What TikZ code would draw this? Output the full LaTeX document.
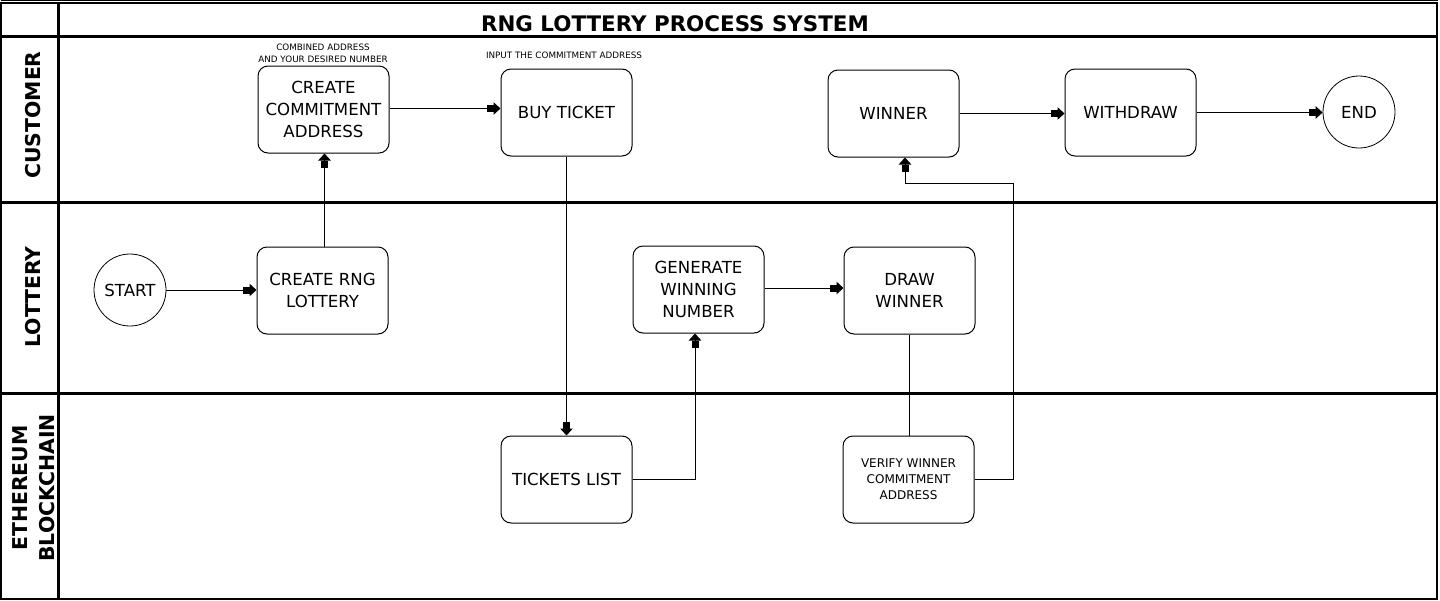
\documentclass[tikz,border=0pt]{standalone}
\usepackage{fontspec}
\setmainfont{DejaVu Sans}
\usepackage{tikz}
\usetikzlibrary{arrows.meta}
\tikzset{>=latex}
\tikzset{
  task/.style={draw, line width=0.5pt, rounded corners=5pt, minimum width=65.5pt,
    minimum height=43.5pt, align=center, font=\fontsize{8.3}{11}\selectfont},
  small task/.style={task, font=\fontsize{6}{8}\selectfont},
  event/.style={draw, circle, line width=0.4pt, minimum size=36pt, inner sep=0pt,
    font=\fontsize{8.3}{11}\selectfont},
  note/.style={align=center, font=\fontsize{4.4}{6}\selectfont},
  lane/.style={rotate=90, align=center, font=\fontsize{10.2}{13.5}\selectfont\bfseries},
  lanerule/.style={line width=1.5pt},
  flow/.style={line width=0.5pt, -{Rectangle[length=3.5pt,width=3.5pt,sep=0pt]Triangle[length=3.5pt,width=6.25pt]}}
}

\begin{document}
\begin{tikzpicture}[x=0.5pt,y=-0.5pt]
  \useasboundingbox (0,0) rectangle (1440,600);
  % pool and lanes
  \draw[line width=0.5pt] (0.5,0.5) -- (1438,0.5);
  \draw[line width=1pt] (1,3) -- (1437,3) -- (1437,599) -- (1,599) -- cycle;
  \draw[lanerule] (0,36) -- (1438,36);
  \draw[lanerule] (0,202) -- (1438,202);
  \draw[lanerule] (0,393) -- (1438,393);
  \draw[lanerule] (58,2) -- (58,600);
  \node[font=\fontsize{10.7}{13}\selectfont\bfseries] (title) at (675,24) {RNG LOTTERY PROCESS SYSTEM};
  \node[lane] (lcust) at (33,115) {CUSTOMER};
  \node[lane] (llott) at (33,297) {LOTTERY};
  \node[lane] (lchain) at (33.5,488) {ETHEREUM\\BLOCKCHAIN};

  % customer
  \node[task] (commit) at (323.5,109.5) {CREATE\\COMMITMENT\\ADDRESS};
  \node[note] (commitnote) at (323,53) {COMBINED ADDRESS\\AND YOUR DESIRED NUMBER};
  \node[task] (buy) at (566.5,112.5) {BUY TICKET};
  \node[note] (buynote) at (564,55) {INPUT THE COMMITMENT ADDRESS};
  \node[task] (winner) at (893.5,113.5) {WINNER};
  \node[task] (withdraw) at (1130.5,112.5) {WITHDRAW};
  \node[event] (end) at (1359,112) {END};

  % lottery
  \node[event] (start) at (130,290) {START};
  \node[task] (rng) at (322.5,290.5) {CREATE RNG\\LOTTERY};
  \node[task] (gen) at (698.5,289.5) {GENERATE\\WINNING\\NUMBER};
  \node[task] (draw) at (909.5,290.5) {DRAW\\WINNER};

  % chain
  \node[task] (tickets) at (566.5,479.5) {TICKETS LIST};
  \node[small task] (verify) at (908.5,479.5) {VERIFY WINNER\\COMMITMENT\\ADDRESS};
  \coordinate (bend) at (1013,183);

  \draw[flow] (start.east) -- (start.east -| rng.west);
  \draw[flow] ([xshift=1pt]rng.north) -- ([xshift=1pt]rng.north |- commit.south);
  \draw[flow] ([yshift=0.5pt]commit.east) -- ([yshift=0.5pt]commit.east -| buy.west);
  \draw[flow] (buy.south) -- (buy.south |- tickets.north);
  \draw[flow] (tickets.east) -| ([xshift=-1.75pt]gen.south);
  \draw[flow] ([yshift=0.75pt]gen.east) -- ([yshift=0.75pt]gen.east -| draw.west);
  \draw[line width=0.5pt] (draw.south) -- (draw.south |- verify.north);
  \draw[flow] (verify.east) -| (bend) -| ([xshift=5.75pt]winner.south);
  \draw[flow] (winner.east) -- (winner.east -| withdraw.west);
  \draw[flow] (withdraw.east) -- (withdraw.east -| end.west);
\end{tikzpicture}
\end{document}
